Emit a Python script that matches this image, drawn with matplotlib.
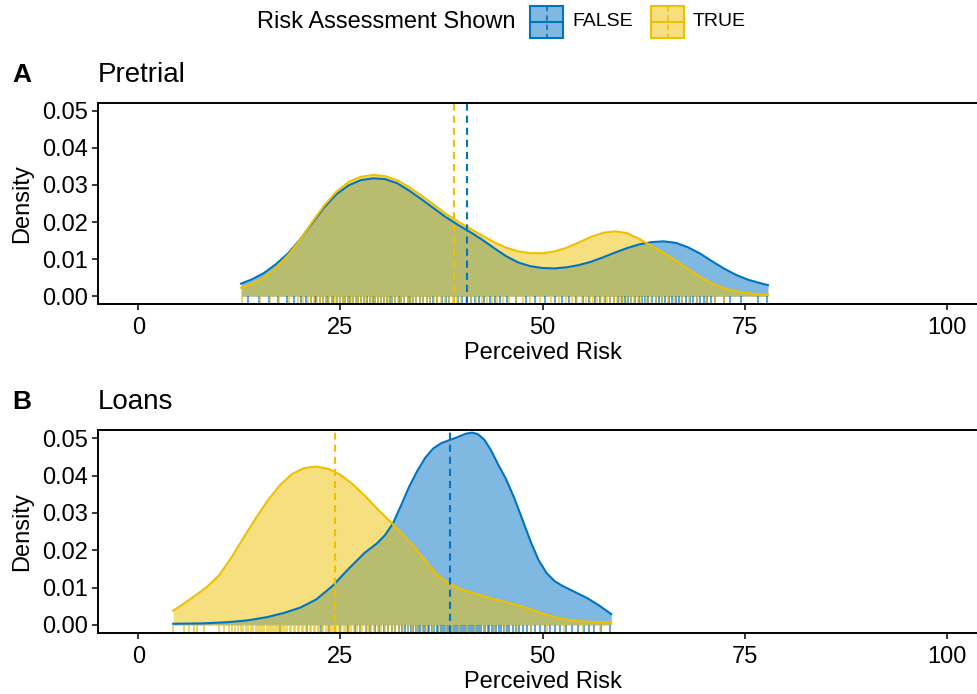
import numpy as np
import matplotlib
matplotlib.use('Agg')
from matplotlib import pyplot as plt
from matplotlib.patches import Rectangle

plt.rcParams['font.family'] = ['Liberation Sans', 'DejaVu Sans']

blue = '#0073C2'
yellow = '#EFC000'

# Pretrial: density curves
pre_x = [12.7, 14, 15.5, 17, 18.5, 20, 21.5, 23, 24.5, 26, 27.5, 29, 30.5, 32, 33.5,
         35, 36.5, 38, 39.5, 41, 42.5, 44, 45.5, 47, 48.5, 50, 51.5, 53, 54.5, 56,
         57.5, 59, 60.5, 62, 63.5, 65, 66.5, 68, 69.5, 71, 72.5, 74, 75.5, 77, 77.9]
pre_false = [.0034, .0045, .0062, .0086, .0115, .0153, .0197, .0240, .0275, .0299,
             .0313, .0318, .0316, .0305, .0285, .0262, .0238, .0214, .0193, .0174,
             .0153, .0130, .0108, .0091, .0081, .0076, .0075, .0078, .0084, .0093,
             .0105, .0118, .0130, .0140, .0146, .0148, .0144, .0132, .0115, .0094,
             .0074, .0057, .0044, .0035, .0030]
pre_true = [.0023, .0033, .0050, .0076, .0110, .0152, .0200, .0245, .0282, .0308,
            .0322, .0327, .0324, .0313, .0294, .0272, .0248, .0223, .0202, .0183,
            .0164, .0146, .0131, .0121, .0116, .0116, .0121, .0131, .0145, .0160,
            .0171, .0175, .0170, .0154, .0136, .0117, .0096, .0074, .0052, .0034,
            .0021, .0013, .0008, .0005, .0003]
pre_mean_false = 40.6
pre_mean_true = 39.0
pre_rug_false = [13.6, 14.9, 16.2, 17.3, 18.4, 19.2, 20.1, 20.7, 21.3, 21.8, 22.0, 22.5,
                 22.8, 23.2, 23.5, 23.9, 24.1, 24.6, 24.9, 25.3, 25.6, 25.9, 26.2, 26.6,
                 26.9, 27.2, 27.5, 27.9, 28.3, 28.6, 29.0, 29.3, 29.6, 30.0, 30.4, 30.7,
                 31.1, 31.4, 31.8, 32.2, 32.5, 32.9, 33.3, 33.6, 34.0, 34.4, 34.8, 35.2,
                 35.7, 36.1, 36.5, 37.0, 37.6, 38.0, 38.4, 39.0, 39.5, 40.1, 40.7, 41.2,
                 41.6, 42.2, 42.8, 43.5, 44.1, 44.8, 45.6, 46.7, 47.9, 49.1, 50.3, 51.5,
                 52.4, 53.3, 54.2, 55.0, 55.8, 56.5, 57.1, 57.7, 58.3, 58.9, 59.4, 59.8,
                 60.2, 60.6, 61.0, 61.5, 61.9, 62.3, 62.7, 63.1, 63.5, 64.0, 64.4, 64.8,
                 65.2, 65.6, 66.0, 66.5, 66.9, 67.3, 67.8, 68.2, 68.6, 69.1, 69.5, 70.0,
                 70.4, 70.9, 71.3, 72.4, 73.2, 74.5, 76.7, 77.8]
pre_rug_true = [12.8, 15.1, 16.3, 17.4, 18.6, 19.7, 20.4, 21.0, 21.4, 21.7, 22.1, 22.5,
                22.9, 23.2, 23.6, 23.9, 24.3, 24.6, 25.0, 25.3, 25.6, 25.9, 26.3, 26.6,
                26.9, 27.2, 27.6, 27.9, 28.2, 28.6, 28.9, 29.3, 29.7, 30.0, 30.4, 30.7,
                31.0, 31.4, 31.8, 32.1, 32.5, 32.9, 33.3, 33.7, 34.0, 34.4, 34.8, 35.2,
                35.7, 36.1, 36.6, 37.0, 37.5, 37.9, 38.4, 38.9, 39.4, 39.9, 40.5, 41.2,
                41.8, 42.5, 43.1, 43.8, 44.4, 45.1, 45.9, 46.7, 47.6, 48.5, 49.7, 51.0,
                52.0, 52.9, 53.6, 54.3, 54.9, 55.4, 55.9, 56.3, 56.8, 57.2, 57.6, 58.0,
                58.4, 58.8, 59.2, 59.6, 60.0, 60.4, 60.9, 61.3, 61.8, 62.2, 62.8, 63.4,
                64.1, 64.8, 65.5, 66.3, 67.2, 68.1, 69.1, 70.2, 71.3, 72.4]

# Loans
loan_x_false = [4.3, 8, 11, 13.5, 16, 18, 20, 22, 24, 26, 28, 29.5, 30.5, 31.5, 32.5,
                33.5, 34.5, 35.5, 36.5, 37.5, 38.5, 39.5, 40.5, 41.3, 42, 42.8, 43.6,
                44.5, 45.5, 46.5, 47.5, 48.5, 49.5, 50.5, 51.5, 52.5, 54, 55.5, 57, 58.5]
loan_false = [.0003, .0004, .0007, .0012, .0021, .0032, .0046, .0068, .0104, .0150,
              .0193, .0218, .0240, .0272, .0320, .0370, .0412, .0448, .0473, .0487,
              .0495, .0503, .0512, .0515, .0511, .0496, .0469, .0430, .0390, .0340,
              .0283, .0225, .0174, .0139, .0117, .0104, .0088, .0072, .0052, .0029]
loan_x_true = [4.3, 5.5, 7, 8.5, 10, 11.5, 13, 14.5, 16, 17.5, 19, 20.5, 22, 23.5, 25,
               26.5, 28, 29.5, 31, 32.5, 34, 35.5, 37, 38.5, 40, 41.5, 43, 44.5, 46,
               47.5, 49, 50.5, 52, 53.5, 55, 56.5, 58.5]
loan_true = [.0038, .0055, .0078, .0102, .0133, .0180, .0233, .0285, .0333, .0374,
             .0404, .0420, .0424, .0418, .0402, .0377, .0346, .0312, .0280, .0247,
             .0213, .0172, .0133, .0110, .0095, .0085, .0075, .0066, .0058, .0049,
             .0038, .0027, .0018, .0012, .0009, .0008, .0007]
loan_mean_false = 38.5
loan_mean_true = 24.3
loan_rug_false = [17.5, 20.8, 22.6, 23.6, 24.9, 25.9, 26.8, 27.4, 28.1, 28.7, 29.3, 29.8,
                  30.4, 30.9, 31.4, 31.8, 32.2, 32.6, 33.0, 33.3, 33.7, 34.0, 34.3, 34.6,
                  34.9, 35.2, 35.5, 35.8, 36.0, 36.3, 36.6, 36.9, 37.1, 37.4, 37.7, 37.9,
                  38.2, 38.4, 38.7, 38.9, 39.2, 39.4, 39.7, 39.9, 40.2, 40.4, 40.7, 40.9,
                  41.2, 41.4, 41.7, 41.9, 42.2, 42.4, 42.7, 42.9, 43.2, 43.4, 43.7, 44.0,
                  44.3, 44.6, 44.9, 45.2, 45.6, 45.9, 46.3, 46.7, 47.1, 47.6, 48.1, 48.6,
                  49.1, 49.7, 50.3, 50.9, 51.5, 52.2, 52.9, 53.6, 54.4, 55.1, 55.8, 56.4,
                  57.3, 58.4]
loan_rug_true = [4.3, 5.7, 6.3, 6.9, 7.3, 8.1, 10.0, 10.6, 11.2, 11.6, 12.0, 12.3, 12.7,
                 13.0, 13.3, 13.6, 13.9, 14.2, 14.5, 14.8, 15.1, 15.3, 15.6, 15.9, 16.1,
                 16.4, 16.7, 16.9, 17.2, 17.4, 17.7, 17.9, 18.2, 18.4, 18.7, 18.9, 19.2,
                 19.4, 19.7, 19.9, 20.2, 20.4, 20.7, 20.9, 21.2, 21.4, 21.7, 21.9, 22.2,
                 22.4, 22.7, 22.9, 23.2, 23.4, 23.7, 23.9, 24.2, 24.5, 24.8, 25.1, 25.4,
                 25.7, 26.0, 26.3, 26.7, 27.0, 27.4, 27.7, 28.1, 28.4, 28.8, 29.2, 29.6,
                 30.0, 30.5, 30.9, 31.4, 31.8, 32.3, 32.8, 33.3, 33.9, 34.5, 35.1, 35.7,
                 36.4, 37.2, 38.0, 38.8, 39.7, 40.6, 41.6, 42.8, 44.0, 45.4, 46.8, 48.6,
                 50.5, 52.7, 55.0, 57.1]

W, H = 977, 694
fig = plt.figure(figsize=(W / 100, H / 100), dpi=100)


def panel(rect, xf, yf, xt, yt, rug_f, rug_t, mean_f, mean_t):
    ax = fig.add_axes(rect)
    for x, y, col in [(xf, yf, blue), (xt, yt, yellow)]:
        ax.fill_between(x, y, color=col, alpha=0.5, lw=0)
        ax.plot(x, y, color=col, lw=1.5)
    for rug, col in [(rug_f, blue), (rug_t, yellow)]:
        ax.vlines(rug, 0, 0.038, transform=ax.get_xaxis_transform(), colors=col,
                  alpha=0.8, lw=1.1)
    ax.axvline(mean_t, color=yellow, lw=1.5, ls=(0, (3.4, 2.4)))
    ax.axvline(mean_f, color=blue, lw=1.5, ls=(0, (3.4, 2.4)))
    ax.set_xlim(-5, 105)
    ax.set_ylim(-0.0021, 0.0522)
    ax.set_xticks([0, 25, 50, 75, 100])
    ax.set_yticks([0, 0.01, 0.02, 0.03, 0.04, 0.05])
    ax.set_yticklabels(['0.00', '0.01', '0.02', '0.03', '0.04', '0.05'])
    ax.tick_params(labelsize=17, length=4.5, width=1.1)
    ax.tick_params(axis='x', pad=5)
    ax.tick_params(axis='y', pad=3)
    for s in ax.spines.values():
        s.set_linewidth(1.4)
    ax.set_xlabel('Perceived Risk', fontsize=17)
    ax.xaxis.label.set_va('center')
    ax.xaxis.set_label_coords(0.5, -0.245)
    ax.set_ylabel('Density', fontsize=17)
    ax.yaxis.label.set_va('center')
    ax.yaxis.set_label_coords(-0.0855, 0.5)
    return ax


left = 98 / W
width = 889 / W
panel([left, 1 - 304 / H, width, 201.3 / H], pre_x, pre_false, pre_x, pre_true,
      pre_rug_false, pre_rug_true, pre_mean_false, pre_mean_true)
panel([left, 1 - 632.7 / H, width, 202.7 / H], loan_x_false, loan_false, loan_x_true,
      loan_true, loan_rug_false, loan_rug_true, loan_mean_false, loan_mean_true)

fig.text(12 / W, 1 - 75 / H, 'A', fontsize=19, fontweight='bold', va='center')
fig.text(98 / W, 1 - 75 / H, 'Pretrial', fontsize=20, va='center')
fig.text(12 / W, 1 - 402 / H, 'B', fontsize=19, fontweight='bold', va='center')
fig.text(98 / W, 1 - 402 / H, 'Loans', fontsize=20, va='center')

# legend drawn in pixel space
lg = fig.add_axes([0, 1 - 45 / H, 1, 45 / H])
lg.set_xlim(0, W)
lg.set_ylim(45, 0)
lg.axis('off')
lg.text(257, 22, 'Risk Assessment Shown', fontsize=17, va='center')
for x0, col, lab in [(530, blue, 'FALSE'), (651, yellow, 'TRUE')]:
    lg.add_patch(Rectangle((x0, 6), 33, 32, facecolor=col, alpha=0.5, lw=0))
    lg.add_patch(Rectangle((x0, 6), 33, 32, facecolor='none', edgecolor=col, lw=1.5))
    lg.plot([x0, x0 + 33], [22, 22], color=col, lw=1.5)
    lg.plot([x0 + 16.5, x0 + 16.5], [6, 38], color=col, lw=1.2, ls=(0, (3.2, 2.4)))
    lg.text(x0 + 42, 22, lab, fontsize=14, va='center')

fig.savefig('out.png', dpi=100)
